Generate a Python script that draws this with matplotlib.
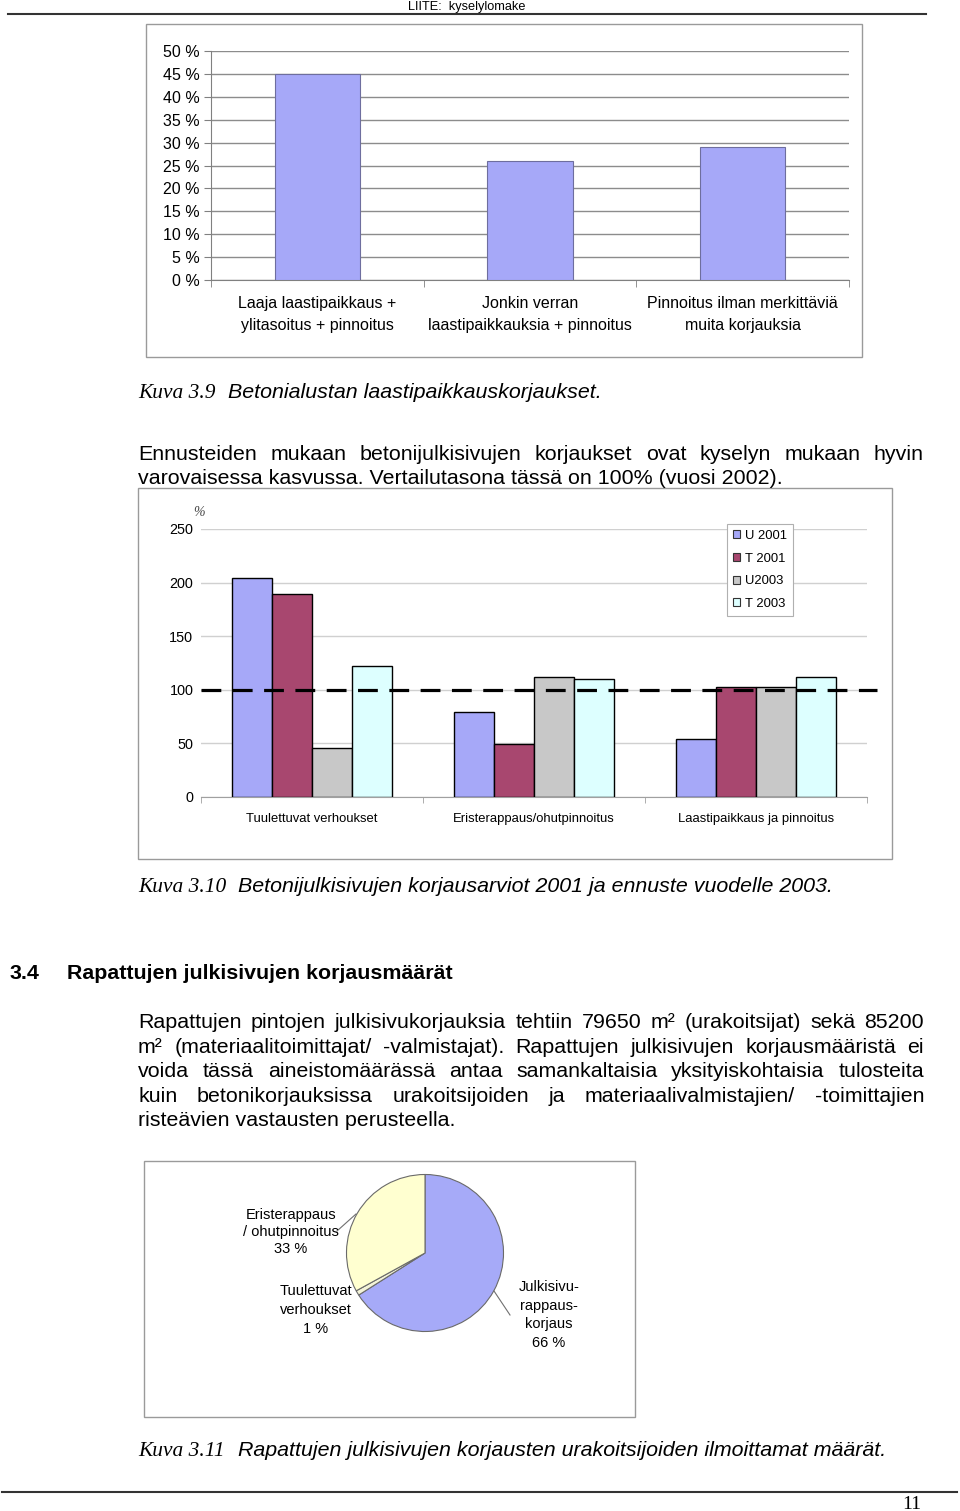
import matplotlib
matplotlib.use('Agg')
import matplotlib.pyplot as plt
from matplotlib.patches import Rectangle, Patch
from matplotlib.lines import Line2D

# ---------------- data ----------------
top_categories = ["Laaja laastipaikkaus +\nylitasoitus + pinnoitus",
                  "Jonkin verran\nlaastipaikkauksia + pinnoitus",
                  "Pinnoitus ilman merkittäviä\nmuita korjauksia"]
top_values = [45, 26, 29]
top_yticks = [0, 5, 10, 15, 20, 25, 30, 35, 40, 45, 50]

mid_categories = ["Tuulettuvat verhoukset", "Eristerappaus/ohutpinnoitus",
                  "Laastipaikkaus ja pinnoitus"]
mid_series = ["U 2001", "T 2001", "U2003", "T 2003"]
u2001 = [204, 79, 54]
t2001 = [189, 49, 103]
u2003 = [46, 112, 103]
t2003 = [122, 110, 112]
mid_yticks = [0, 50, 100, 150, 200, 250]
reference_level = 100

pie_labels = ["Julkisivu-\nrappaus-\nkorjaus\n66 %", "Tuulettuvat\nverhoukset\n1 %",
              "Eristerappaus\n/ ohutpinnoitus\n33 %"]
pie_values = [66, 1, 33]

# ---------------- styles ----------------
SANS = "Liberation Sans"
SERIF = "Liberation Serif"
BLUE = "#A6A8F8"
MAROON = "#A8476F"
GREY = "#C8C8C8"
CYAN = "#DDFFFF"
mid_colors = [BLUE, MAROON, GREY, CYAN]
pie_colors = ["#A6AAF8", "#F4F4D8", "#FFFFD0"]
BODY = 15.4

W, H = 960, 1511
fig = plt.figure(figsize=(W / 100, H / 100), dpi=100)
fig.patch.set_facecolor("white")


def fx(x):
    return x / W


def fy(y):
    return 1 - y / H


def axrect(l, t, r, b):
    return [fx(l), fy(b), (r - l) / W, (b - t) / H]


def frame(l, t, r, b, color="#9a9a9a"):
    fig.patches.append(Rectangle((fx(l), fy(b)), (r - l) / W, (b - t) / H,
                                 transform=fig.transFigure, fill=False,
                                 edgecolor=color, linewidth=1.0))


def hline(x0, x1, y, lw=1.2, color="#333333"):
    fig.lines.append(Line2D([fx(x0), fx(x1)], [fy(y), fy(y)],
                            transform=fig.transFigure, color=color, lw=lw))


renderer = fig.canvas.get_renderer()


def justified(words, y, x0=138, x1=924, size=BODY, **kw):
    texts = [fig.text(0, fy(y), w, fontsize=size, family=SANS, va="baseline", **kw)
             for w in words]
    widths = [t.get_window_extent(renderer).width for t in texts]
    gap = (x1 - x0 - sum(widths)) / (len(words) - 1)
    x = x0
    for t, w in zip(texts, widths):
        t.set_x(fx(x))
        x += w + gap


def plain(s, x, y, size=BODY, **kw):
    kw.setdefault("family", SANS)
    return fig.text(fx(x), fy(y), s, fontsize=size, va="baseline", **kw)


# ---------------- header / footer ----------------
fig.text(fx(467), fy(10), "LIITE:  kyselylomake", fontsize=9.2, family=SANS,
         ha="center", va="baseline")
hline(8, 926, 14, lw=1.5)
hline(2, 957, 1492, lw=1.5)
plain("11", 912, 1509, size=14, family=SERIF, ha="center")

# ---------------- chart 1 ----------------
frame(146, 24, 862, 357)
ax1 = fig.add_axes(axrect(211, 51, 849, 280))
x1 = list(range(len(top_values)))
ax1.bar(x1, top_values, width=0.4, color=BLUE, edgecolor="#6E6E9E",
        linewidth=0.8, zorder=3)
ax1.set_xlim(-0.5, 2.5)
ax1.set_ylim(0, 50)
ax1.set_yticks(top_yticks)
ax1.set_yticklabels([f"{v} %" for v in top_yticks], family=SANS, fontsize=11.5)
ax1.grid(axis="y", color="#8c8c8c", linewidth=1.0, zorder=0)
ax1.set_axisbelow(True)
for s in ["top", "right"]:
    ax1.spines[s].set_visible(False)
for s in ["left", "bottom"]:
    ax1.spines[s].set_color("#808080")
ax1.tick_params(axis="y", length=5, color="#808080", pad=3)
ax1.set_xticks(x1)
ax1.set_xticklabels(top_categories, family=SANS, fontsize=11.5, linespacing=1.62)
ax1.set_xticks([-0.5, 0.5, 1.5, 2.5], minor=True)
ax1.tick_params(axis="x", which="major", length=0, pad=11.5)
ax1.tick_params(axis="x", which="minor", length=5, color="#808080")

plain("Kuva 3.9", 138, 398, family=SERIF, style="italic")
plain("Betonialustan laastipaikkauskorjaukset.", 228, 398, style="italic")

justified("Ennusteiden mukaan betonijulkisivujen korjaukset ovat kyselyn mukaan hyvin".split(), 460)
plain("varovaisessa kasvussa. Vertailutasona tässä on 100% (vuosi 2002).", 138, 484)

# ---------------- chart 2 ----------------
frame(138, 488, 892, 859)
ax2 = fig.add_axes(axrect(201, 529, 867, 797))
bw = 0.18
for i, (name, vals, col) in enumerate(zip(mid_series, [u2001, t2001, u2003, t2003], mid_colors)):
    xs = [k + (i - 1.5) * bw for k in range(len(mid_categories))]
    ax2.bar(xs, vals, width=bw, color=col, edgecolor="black", linewidth=1.0,
            zorder=3, label=name)
ax2.axhline(reference_level, xmin=0, xmax=(877 - 201) / 666, color="black",
            linewidth=2.3, linestyle=(0, (6.2, 3.6)), clip_on=False, zorder=5)
ax2.set_xlim(-0.5, 2.5)
ax2.set_ylim(0, 250)
ax2.set_yticks(mid_yticks)
ax2.set_yticklabels([str(v) for v in mid_yticks], family=SANS, fontsize=10.4)
ax2.grid(axis="y", color="#d0d0d0", linewidth=1.0, zorder=0)
ax2.set_axisbelow(True)
for s in ["top", "right", "left"]:
    ax2.spines[s].set_visible(False)
ax2.spines["bottom"].set_color("#a0a0a0")
ax2.tick_params(axis="y", length=0, pad=5.5)
ax2.set_xticks(range(len(mid_categories)))
ax2.set_xticklabels(mid_categories, family=SANS, fontsize=9.4)
ax2.set_xticks([-0.5, 0.5, 1.5, 2.5], minor=True)
ax2.tick_params(axis="x", which="major", length=0, pad=11.5)
ax2.tick_params(axis="x", which="minor", length=4, color="#a0a0a0")
fig.text(fx(199), fy(512), "%", fontsize=10, family=SERIF, style="italic",
         color="#444444", ha="center", va="center")
handles = [Patch(facecolor=c, edgecolor="#333333", linewidth=0.8) for c in mid_colors]
leg = ax2.legend(handles, mid_series, loc="upper left",
                 bbox_to_anchor=(fx(727), fy(524)), bbox_transform=fig.transFigure,
                 prop={"family": SANS, "size": 9.4}, handlelength=0.55,
                 handleheight=0.55, handletextpad=0.4, labelspacing=0.82,
                 borderpad=0.45, borderaxespad=0, fancybox=False, framealpha=1,
                 edgecolor="#b0b0b0")
leg.get_frame().set_linewidth(0.8)

plain("Kuva 3.10", 138, 892, family=SERIF, style="italic")
plain("Betonijulkisivujen korjausarviot 2001 ja ennuste vuodelle 2003.", 238, 892,
      style="italic")

# ---------------- section 3.4 ----------------
plain("3.4", 10, 979, weight="bold")
plain("Rapattujen julkisivujen korjausmäärät", 67, 979, weight="bold")

para = [
    ["Rapattujen", "pintojen", "julkisivukorjauksia", "tehtiin", "79650", "m²",
     "(urakoitsijat)", "sekä", "85200"],
    ["m²", "(materiaalitoimittajat/", "-valmistajat).", "Rapattujen", "julkisivujen",
     "korjausmääristä", "ei"],
    ["voida", "tässä", "aineistomäärässä", "antaa", "samankaltaisia",
     "yksityiskohtaisia", "tulosteita"],
    ["kuin", "betonikorjauksissa", "urakoitsijoiden", "ja", "materiaalivalmistajien/",
     "-toimittajien"],
]
base = [1028, 1053, 1077, 1102]
for words, y in zip(para, base):
    justified(words, y)
plain("risteävien vastausten perusteella.", 138, 1126)

# ---------------- chart 3 (pie) ----------------
frame(144, 1161, 635, 1417)
r = 78.5
ax3 = fig.add_axes(axrect(425 - r, 1253 - r, 425 + r, 1253 + r))
ax3.pie(pie_values, colors=pie_colors, startangle=90, counterclock=False,
        wedgeprops=dict(edgecolor="#6a6a6a", linewidth=0.8))
ax3.set_xlim(-1, 1)
ax3.set_ylim(-1, 1)
ax3.axis("off")

fig.text(fx(549), fy(1315), pie_labels[0], fontsize=10.5, family=SANS,
         ha="center", va="center", linespacing=1.42)
fig.text(fx(316), fy(1310), pie_labels[1], fontsize=10.5, family=SANS,
         ha="center", va="center", linespacing=1.42)
fig.text(fx(291), fy(1232), pie_labels[2], fontsize=10.5, family=SANS,
         ha="center", va="center", linespacing=1.24)
fig.lines.append(Line2D([fx(337), fx(356)], [fy(1231), fy(1214)],
                        transform=fig.transFigure, color="#707070", lw=0.8))
fig.lines.append(Line2D([fx(494), fx(510)], [fy(1291), fy(1315)],
                        transform=fig.transFigure, color="#707070", lw=0.8))

plain("Kuva 3.11", 138, 1456, family=SERIF, style="italic")
plain("Rapattujen julkisivujen korjausten urakoitsijoiden ilmoittamat määrät.", 238, 1456,
      style="italic")

fig.savefig("out.png", dpi=100, facecolor="white")
